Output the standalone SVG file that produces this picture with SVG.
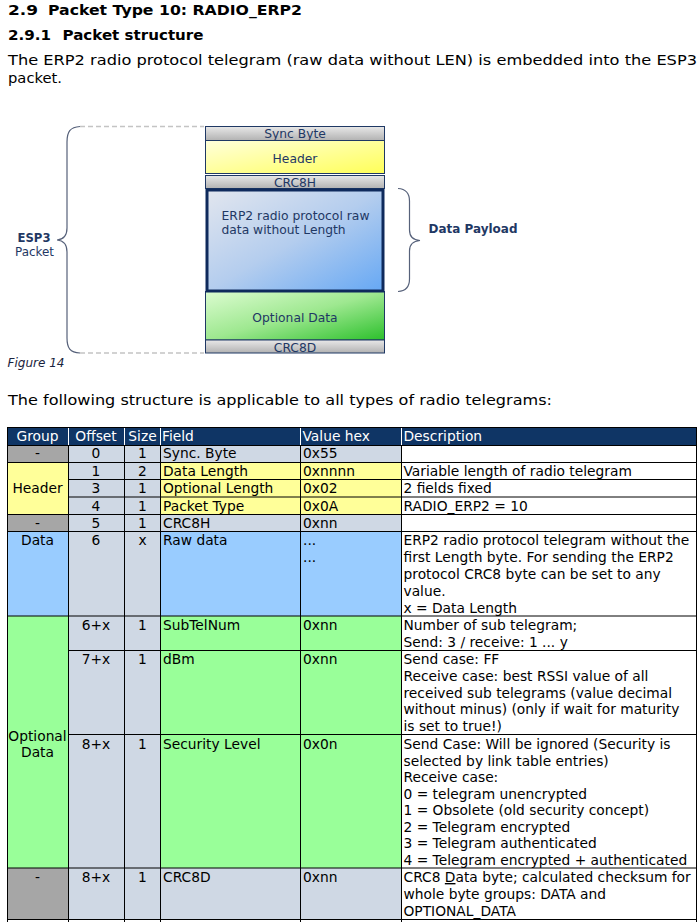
<svg xmlns="http://www.w3.org/2000/svg" width="699" height="922" viewBox="0 0 699 922">
<defs>
<linearGradient id="gGray" x1="0" y1="0" x2="0" y2="1"><stop offset="0" stop-color="#e8e8e8"/><stop offset="1" stop-color="#b2b2b2"/></linearGradient>
<linearGradient id="gYellow" x1="0" y1="0" x2="1" y2="1"><stop offset="0" stop-color="#ffffdc"/><stop offset="1" stop-color="#ffff58"/></linearGradient>
<linearGradient id="gBlue" x1="0" y1="0" x2="1" y2="1"><stop offset="0" stop-color="#e2e6ee"/><stop offset="0.5" stop-color="#b4cdee"/><stop offset="1" stop-color="#66a8f4"/></linearGradient>
<linearGradient id="gGreen" x1="0" y1="0" x2="1" y2="1"><stop offset="0" stop-color="#dcfcd0"/><stop offset="0.5" stop-color="#9ee890"/><stop offset="1" stop-color="#2cc02c"/></linearGradient>
<style>
.h{font-family:"DejaVu Sans",Verdana,sans-serif;font-weight:bold;font-size:14.5px;fill:#000}
.b{font-family:"DejaVu Sans",Verdana,sans-serif;font-size:14px;fill:#000}
.d{font-family:"DejaVu Sans",Verdana,sans-serif;font-size:12.3px;fill:#1f3864}
.db{font-family:"DejaVu Sans",Verdana,sans-serif;font-size:13px;font-weight:bold;fill:#1f3864}
.fig{font-family:"DejaVu Sans",Verdana,sans-serif;font-size:12.5px;font-style:italic;fill:#1a2440}
.box{stroke:#1f3864;stroke-width:1}
.brace{fill:none;stroke:#56617a;stroke-width:1.2}
.dash{stroke:#c4c4c4;stroke-width:1.3;stroke-dasharray:5 3;fill:none}
.t{font-family:"DejaVu Sans",Verdana,sans-serif;font-size:13.8px;fill:#000}
.th{font-family:"DejaVu Sans",Verdana,sans-serif;font-size:13.8px;fill:#fff}
.c{text-anchor:middle}
.grid{stroke:#000;stroke-width:1;fill:none}
.wgrid{stroke:#fff;stroke-width:1}
</style>
</defs>
<rect width="699" height="922" fill="#fff"/>

<g id="headings">
<text class="h" x="8" y="15" textLength="30" lengthAdjust="spacingAndGlyphs">2.9</text>
<text class="h" x="48" y="15" textLength="254" lengthAdjust="spacingAndGlyphs">Packet Type 10: RADIO_ERP2</text>
<text class="h" x="8" y="40" textLength="43" lengthAdjust="spacingAndGlyphs">2.9.1</text>
<text class="h" x="62.5" y="40" textLength="141" lengthAdjust="spacingAndGlyphs">Packet structure</text>
<text class="b" x="8" y="65" textLength="689" lengthAdjust="spacingAndGlyphs">The ERP2 radio protocol telegram (raw data without LEN) is embedded into the ESP3</text>
<text class="b" x="8" y="83" textLength="54" lengthAdjust="spacingAndGlyphs">packet.</text>
</g>

<g id="figure">
<g id="connectors">
<path class="dash" d="M80 126.5 H204"/>
<path class="dash" d="M80 353 H204"/>
<path class="brace" d="M80 126.5 C70 127 67 132 67 142 V228 C67 236 63 239.5 57 240 C63 240.5 67 244 67 252 V338 C67 348 70 352.5 80 353"/>
<path class="brace" d="M398 188.5 C406 189 409.5 193 409.5 201 V230 C409.5 237 413 240 420 240.5 C413 241 409.5 244 409.5 251 V279 C409.5 287 406 291 398 291.5"/>
</g>
<g id="sync"><rect class="box" x="205.5" y="126.5" width="179" height="14" fill="url(#gGray)"/><text class="d c" x="295" y="138.3">Sync Byte</text></g>
<g id="header"><rect class="box" x="205.5" y="140.5" width="179" height="33" fill="url(#gYellow)"/><text class="d c" x="295" y="162.5">Header</text></g>
<g id="crc8h"><rect class="box" x="205.5" y="175.5" width="179" height="13" fill="url(#gGray)"/><text class="d c" x="295" y="186.7">CRC8H</text></g>
<g id="optional"><rect class="box" x="205.5" y="291.5" width="179" height="48.5" fill="url(#gGreen)"/><text class="d c" x="295" y="321.5">Optional Data</text></g>
<g id="crc8d"><rect class="box" x="205.5" y="340" width="179" height="13" fill="url(#gGray)"/><text class="d c" x="295" y="352.3">CRC8D</text></g>
<g id="payload"><rect x="207" y="190" width="176" height="101" fill="url(#gBlue)" stroke="#0f2a5c" stroke-width="3"/>
<text class="d" x="221.5" y="219.5" textLength="148" lengthAdjust="spacingAndGlyphs">ERP2 radio protocol raw</text>
<text class="d" x="221.5" y="233.5">data without Length</text></g>
<g id="esp3"><text class="db c" x="34" y="241.7" textLength="33" lengthAdjust="spacingAndGlyphs">ESP3</text><text class="d c" x="34.5" y="255.5" textLength="39" lengthAdjust="spacingAndGlyphs" style="font-size:13px">Packet</text></g>
<g id="datapayload"><text class="db" x="428.5" y="232.7" textLength="89" lengthAdjust="spacingAndGlyphs">Data Payload</text></g>
<text class="fig" x="7.5" y="367" textLength="57" lengthAdjust="spacingAndGlyphs">Figure 14</text>
</g>

<text class="b" x="8" y="405" textLength="544" lengthAdjust="spacingAndGlyphs">The following structure is applicable to all types of radio telegrams:</text>

<g id="table">
<g id="fills">
<rect x="7" y="427" width="689" height="18" fill="#0f3565"/>
<rect x="7" y="445" width="61" height="17" fill="#a6a6a6"/>
<rect x="68" y="445" width="333" height="17" fill="#cfd8e4"/>
<rect x="7" y="462" width="61" height="52.5" fill="#ffff99"/>
<rect x="68" y="462" width="92" height="52.5" fill="#cfd8e4"/>
<rect x="160" y="462" width="241" height="52.5" fill="#ffff99"/>
<rect x="7" y="514.5" width="61" height="17" fill="#a6a6a6"/>
<rect x="68" y="514.5" width="333" height="17" fill="#cfd8e4"/>
<rect x="7" y="531.5" width="61" height="84.5" fill="#99ccff"/>
<rect x="68" y="531.5" width="92" height="84.5" fill="#cfd8e4"/>
<rect x="160" y="531.5" width="241" height="84.5" fill="#99ccff"/>
<rect x="7" y="616" width="61" height="252" fill="#99ff99"/>
<rect x="68" y="616" width="92" height="252" fill="#cfd8e4"/>
<rect x="160" y="616" width="241" height="252" fill="#99ff99"/>
<rect x="7" y="868" width="61" height="51" fill="#a6a6a6"/>
<rect x="68" y="868" width="333" height="51" fill="#cfd8e4"/>
</g>
<g id="lines">
<path class="wgrid" d="M68.5 427V445M124.5 427V445M160.5 427V445M300.5 427V445M401.5 427V445"/>
<path class="grid" d="M7.5 427V922M696.5 427V922M68.5 445V922M124.5 445V922M160.5 445V922M300.5 445V922M401.5 445V922"/>
<path class="grid" d="M7 427.5H697M7 445.5H697M7 462.5H697M68 479.5H697M68 497H697M7 514.5H697M7 531.5H697M7 616H697M68 650.5H697M68 734.5H697M7 868H697M7 919.5H697"/>
</g>
<g id="thead">
<text class="th c" x="37.5" y="440.5">Group</text>
<text class="th c" x="96" y="440.5">Offset</text>
<text class="th c" x="142.5" y="440.5">Size</text>
<text class="th" x="162" y="440.5">Field</text>
<text class="th" x="302.5" y="440.5">Value hex</text>
<text class="th" x="403.5" y="440.5">Description</text>
</g>
<g id="row-sync">
<text class="t c" x="37.5" y="458">-</text><text class="t c" x="96" y="458">0</text><text class="t c" x="142.5" y="458">1</text>
<text class="t" x="163" y="458">Sync. Byte</text><text class="t" x="303" y="458">0x55</text>
</g>
<g id="row-header">
<text class="t c" x="37.5" y="493">Header</text>
<text class="t c" x="96" y="475.5">1</text><text class="t c" x="142.5" y="475.5">2</text>
<text class="t" x="163" y="475.5">Data Length</text><text class="t" x="303" y="475.5">0xnnnn</text><text class="t" x="403.5" y="475.5">Variable length of radio telegram</text>
<text class="t c" x="96" y="493">3</text><text class="t c" x="142.5" y="493">1</text>
<text class="t" x="163" y="493">Optional Length</text><text class="t" x="303" y="493">0x02</text><text class="t" x="403.5" y="493">2 fields fixed</text>
<text class="t c" x="96" y="510.5">4</text><text class="t c" x="142.5" y="510.5">1</text>
<text class="t" x="163" y="510.5">Packet Type</text><text class="t" x="303" y="510.5">0x0A</text><text class="t" x="403.5" y="510.5">RADIO_ERP2 = 10</text>
</g>
<g id="row-crc8h">
<text class="t c" x="37.5" y="527.5">-</text><text class="t c" x="96" y="527.5">5</text><text class="t c" x="142.5" y="527.5">1</text>
<text class="t" x="163" y="527.5">CRC8H</text><text class="t" x="303" y="527.5">0xnn</text>
</g>
<g id="row-data">
<text class="t c" x="37.5" y="545">Data</text><text class="t c" x="96" y="545">6</text><text class="t c" x="142.5" y="545">x</text>
<text class="t" x="163" y="545">Raw data</text><text class="t" x="303" y="545">...</text><text class="t" x="303" y="562">...</text>
<text class="t" x="403.5" y="545">ERP2 radio protocol telegram without the</text>
<text class="t" x="403.5" y="562">first Length byte. For sending the ERP2</text>
<text class="t" x="403.5" y="579">protocol CRC8 byte can be set to any</text>
<text class="t" x="403.5" y="596">value.</text>
<text class="t" x="403.5" y="613">x = Data Length</text>
</g>
<g id="row-optional">
<text class="t c" x="37.5" y="740.5">Optional</text><text class="t c" x="37.5" y="756.5">Data</text>
<text class="t c" x="96" y="630">6+x</text><text class="t c" x="142.5" y="630">1</text>
<text class="t" x="163" y="630">SubTelNum</text><text class="t" x="303" y="630">0xnn</text>
<text class="t" x="403.5" y="630">Number of sub telegram;</text>
<text class="t" x="403.5" y="647">Send: 3 / receive: 1 ... y</text>
<text class="t c" x="96" y="664">7+x</text><text class="t c" x="142.5" y="664">1</text>
<text class="t" x="163" y="664">dBm</text><text class="t" x="303" y="664">0xnn</text>
<text class="t" x="403.5" y="664">Send case: FF</text>
<text class="t" x="403.5" y="681">Receive case: best RSSI value of all</text>
<text class="t" x="403.5" y="697.5">received sub telegrams (value decimal</text>
<text class="t" x="403.5" y="714">without minus) (only if wait for maturity</text>
<text class="t" x="403.5" y="731">is set to true!)</text>
<text class="t c" x="96" y="749">8+x</text><text class="t c" x="142.5" y="749">1</text>
<text class="t" x="163" y="749">Security Level</text><text class="t" x="303" y="749">0x0n</text>
<text class="t" x="403.5" y="749">Send Case: Will be ignored (Security is</text>
<text class="t" x="403.5" y="765.5">selected by link table entries)</text>
<text class="t" x="403.5" y="782">Receive case:</text>
<text class="t" x="403.5" y="798.5">0 = telegram unencrypted</text>
<text class="t" x="403.5" y="815">1 = Obsolete (old security concept)</text>
<text class="t" x="403.5" y="831.5">2 = Telegram encrypted</text>
<text class="t" x="403.5" y="848">3 = Telegram authenticated</text>
<text class="t" x="403.5" y="864.5">4 = Telegram encrypted + authenticated</text>
</g>
<g id="row-crc8d">
<text class="t c" x="37.5" y="882">-</text><text class="t c" x="96" y="882">8+x</text><text class="t c" x="142.5" y="882">1</text>
<text class="t" x="163" y="882">CRC8D</text><text class="t" x="303" y="882">0xnn</text>
<text class="t" x="403.5" y="882">CRC8 <tspan text-decoration="underline">D</tspan>ata byte; calculated checksum for</text>
<text class="t" x="403.5" y="899">whole byte groups: DATA and</text>
<text class="t" x="403.5" y="916">OPTIONAL_DATA</text>
</g>
</g>
</svg>
